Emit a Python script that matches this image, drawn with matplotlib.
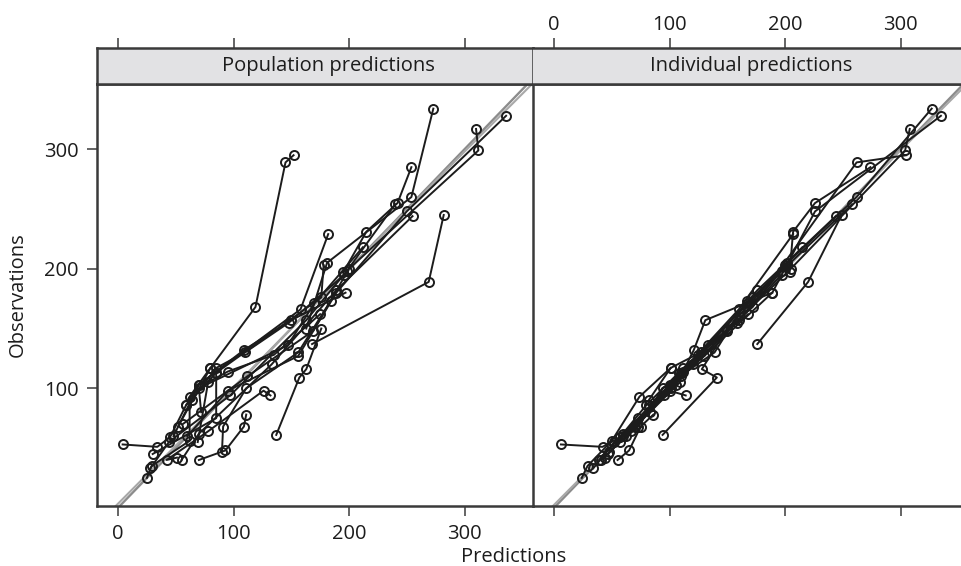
import matplotlib
matplotlib.use("Agg")
import matplotlib.pyplot as plt

plt.rcParams["font.family"] = ["Open Sans", "DejaVu Sans"]

# one list per subject: observed value, population prediction, individual prediction
OBS = [
    [53, 51, 59, 86, 113],
    [68, 117, 168, 289, 295],
    [197, 231, 255, 285],
    [60, 103, 166, 229],
    [150, 205, 260, 334],
    [137, 189, 245],
    [40, 48, 68, 78],
    [61, 109, 116, 150],
    [25, 35, 56, 93, 117],
    [42, 40, 64, 98, 94],
    [86, 103, 132, 157, 180],
    [45, 75, 113, 176, 203],
    [47, 68, 100, 130, 173],
    [40, 62, 120, 182, 244],
    [33, 55, 94, 157, 198, 254],
    [70, 110, 148, 200, 299, 317],
    [60, 98, 127, 180, 248, 328],
    [80, 100, 136, 171, 218],
    [55, 105, 114, 128, 162],
    [90, 117, 130, 155, 195],
]
POP = [
    [4, 34, 45, 59, 85],
    [52, 80, 119, 145, 152],
    [195, 215, 242, 254],
    [48, 70, 158, 182],
    [163, 181, 254, 273],
    [168, 269, 282],
    [70, 93, 109, 111],
    [137, 157, 163, 176],
    [25, 29, 62, 62, 80],
    [51, 42, 78, 126, 132],
    [59, 70, 109, 150, 197],
    [30, 85, 85, 176, 178],
    [90, 91, 111, 156, 184],
    [55, 70, 133, 189, 255],
    [28, 44, 97, 163, 198, 240],
    [56, 112, 169, 200, 312, 310],
    [60, 95, 156, 189, 250, 336],
    [72, 70, 147, 170, 212],
    [69, 78, 95, 135, 175],
    [64, 85, 110, 148, 196],
]
IND = [
    [6, 42, 57, 80, 108],
    [70, 112, 172, 262, 305],
    [204, 207, 226, 274],
    [62, 100, 160, 207],
    [150, 202, 262, 327],
    [176, 220, 249],
    [55, 65, 75, 86],
    [94, 141, 128, 150],
    [24, 29, 50, 74, 101],
    [44, 41, 67, 100, 114],
    [82, 106, 121, 131, 189],
    [47, 73, 110, 172, 200],
    [48, 73, 94, 139, 167],
    [39, 60, 120, 176, 244],
    [34, 52, 95, 160, 197, 258],
    [72, 110, 150, 205, 304, 308],
    [60, 96, 130, 189, 226, 335],
    [83, 101, 133, 168, 215],
    [57, 109, 112, 125, 168],
    [82, 101, 127, 158, 197],
]

# loess smooths
SMOOTH_X = [-20, 50, 100, 150, 200, 250, 300, 360]
SMOOTH_POP = [-16, 52, 101, 150, 199, 249, 298, 356]
SMOOTH_IND = [-17, 51, 100, 149, 199, 249, 299, 357]

PANELS = ["Population predictions", "Individual predictions"]
XTICKS = [0, 100, 200, 300]
YTICKS = [100, 200, 300]

XLIM = (-18.2, 359.3)
YLIM = (1.5, 354.6)

INK = "#1c1c1c"
FRAME = "#3a3a3a"
GREY = "#8c8c8c"
FS = 14.5

fig = plt.figure(figsize=(9.62, 5.66), dpi=100)

W, H = 962, 566


def box(x0, y0, x1, y1):
    # pixel box (top-left origin) -> figure fraction rect
    return [x0 / W, 1 - y1 / H, (x1 - x0) / W, (y1 - y0) / H]


ax_r = fig.add_axes(box(533, 84, 969, 506))
ax_l = fig.add_axes(box(97, 84, 533, 506))
st_l = fig.add_axes(box(97, 48, 533, 84), sharex=ax_l)
st_r = fig.add_axes(box(533, 48, 969, 84), sharex=ax_r)
ax_l.patch.set_visible(False)

for ax, xs, smooth in [(ax_l, POP, SMOOTH_POP), (ax_r, IND, SMOOTH_IND)]:
    ax.plot(XLIM, XLIM, color=GREY, lw=1.7, zorder=1)
    ax.plot(SMOOTH_X, smooth, color="#a8a8a8", lw=1.5, zorder=1)
    for x, y in zip(xs, OBS):
        ax.plot(x, y, color=INK, lw=1.4, marker="o", ms=6.5,
                mfc="none", mec=INK, mew=1.4, zorder=2)
    ax.set_xlim(*XLIM)
    ax.set_ylim(*YLIM)
    for s in ax.spines.values():
        s.set_color(FRAME)
        s.set_linewidth(1.8)
    ax.tick_params(direction="out", length=7, width=1.1, color=FRAME,
                   labelsize=FS, labelcolor=INK, pad=6)
    ax.set_xticks(XTICKS)

ax_l.set_yticks(YTICKS)
ax_l.tick_params(top=False, right=False)
ax_r.set_yticks([])
ax_r.tick_params(labelbottom=False)
ax_r.spines["left"].set_visible(False)

for st, title, show, cx in [(st_l, PANELS[0], False, 0.53),
                            (st_r, PANELS[1], True, 0.5)]:
    st.set_facecolor("#e2e2e4")
    st.set_ylim(0, 1)
    st.set_yticks([])
    for s in st.spines.values():
        s.set_color(FRAME)
        s.set_linewidth(1.8)
    st.tick_params(bottom=False, labelbottom=False, top=True, labeltop=show,
                   direction="out", length=7, width=1.1, color=FRAME,
                   labelsize=FS, labelcolor=INK, pad=2)
    st.text(cx, 0.5, title, transform=st.transAxes, ha="center",
            va="center", fontsize=FS, color=INK)
st_r.spines["left"].set_visible(False)

fig.text(514 / W, 1 - 557 / H, "Predictions", ha="center", va="center",
         fontsize=FS, color=INK)
fig.text(18 / W, 1 - 295 / H, "Observations", ha="center", va="center",
         rotation=90, fontsize=FS, color=INK)

fig.savefig("out.png", dpi=100)
